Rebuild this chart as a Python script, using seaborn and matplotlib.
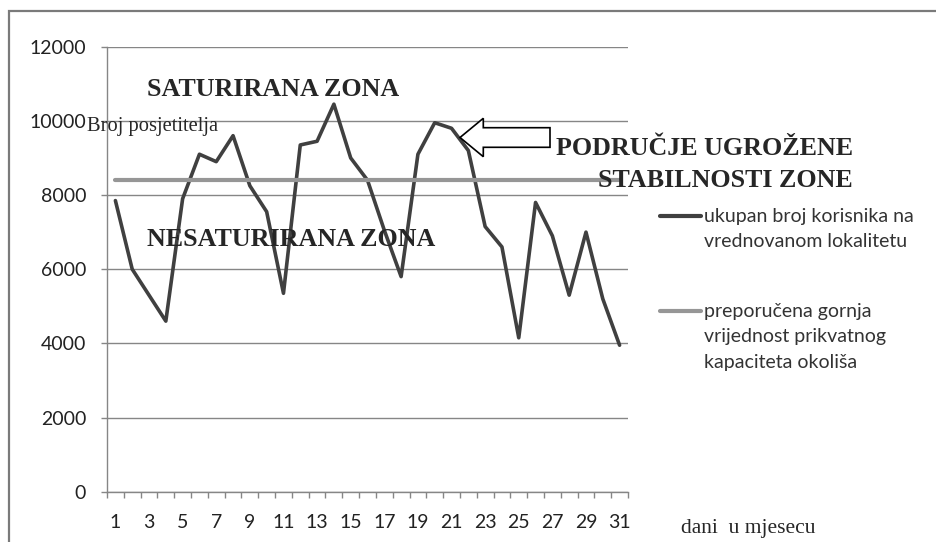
import matplotlib
matplotlib.use("Agg")
import matplotlib.pyplot as plt
from matplotlib.patches import FancyArrow, Rectangle
import seaborn as sns
import pandas as pd

# podaci (ocitano s grafa)
dani = list(range(1, 32))
korisnici = [7850, 6000, 5300, 4600, 7900, 9100, 8900, 9600, 8250, 7550,
             5350, 9350, 9450, 10450, 9000, 8400, 7050, 5800, 9100, 9950,
             9800, 9200, 7150, 6600, 4150, 7800, 6900, 5300, 7000, 5200, 3950]
granica = [8400] * 31
oznake_x = list(range(1, 32, 2))
oznake_y = list(range(0, 12001, 2000))

naziv_1 = "ukupan broj korisnika na\nvrednovanom lokalitetu"
naziv_2 = "preporučena gornja\nvrijednost prikvatnog\nkapaciteta okoliša"

df = pd.DataFrame({"dan": dani, "korisnici": korisnici, "granica": granica})

sns.set_theme(style="white")
plt.rcParams["font.family"] = ["Lato", "DejaVu Sans"]

W, H = 937, 542
fig = plt.figure(figsize=(W / 100, H / 100), dpi=100)
ax = fig.add_axes([107 / W, 1 - 491.7 / H, (628 - 107) / W, (491.7 - 46.7) / H])

sns.lineplot(data=df, x="dan", y="korisnici", ax=ax, color="#404040", linewidth=2.6, label=naziv_1)
sns.lineplot(data=df, x="dan", y="granica", ax=ax, color="#969696", linewidth=3.0, label=naziv_2)

ax.set_xlim(0.5, 31.5)
ax.set_ylim(0, 12000)
ax.set_yticks(oznake_y)
ax.set_yticklabels([str(v) for v in oznake_y])
ax.yaxis.grid(True, color="#868686", linewidth=1)
ax.set_axisbelow(True)

# kvacice na granicama dana, oznake na sredini
ax.set_xticks([d + 0.5 for d in range(0, 32)])
ax.set_xticklabels([])
ax.set_xticks(oznake_x, minor=True)
ax.set_xticklabels([str(d) for d in oznake_x], minor=True)
ax.tick_params(axis="x", which="major", direction="out", length=4, width=1, color="#868686", bottom=True)
ax.tick_params(axis="x", which="minor", length=0, pad=16, labelsize=14, labelcolor="#222222")
ax.tick_params(axis="y", direction="out", length=4, width=1, color="#868686", left=True, pad=11,
               labelsize=14, labelcolor="#222222")
ax.set_xlabel("")
ax.set_ylabel("")
for s in ["top", "right"]:
    ax.spines[s].set_visible(False)
for s in ["left", "bottom"]:
    ax.spines[s].set_color("#868686")
    ax.spines[s].set_linewidth(1)

# legenda
leg = ax.legend(loc="upper left", bbox_to_anchor=(660 / W, 1 - 208 / H), bbox_transform=fig.transFigure,
                frameon=False, fontsize=14, handlelength=2.1, handletextpad=0.15, labelspacing=2.7,
                borderpad=0, borderaxespad=0)
for t in leg.get_texts():
    t.set_linespacing(1.6)
    t.set_color("#333333")
for ln, t in zip(leg.get_lines(), leg.get_texts()):
    n = t.get_text().count("\n")
    ln.set_ydata([y + n * 9.4 for y in ln.get_ydata()])
    ln.set_linewidth(3)

serif = ["Liberation Serif", "DejaVu Serif"]
def px(x, y):
    return x / W, 1 - y / H

fig.text(*px(147, 89), "SATURIRANA ZONA", family=serif, weight="bold", fontsize=18.7, va="center", ha="left")
fig.text(*px(147, 239), "NESATURIRANA ZONA", family=serif, weight="bold", fontsize=18.7, va="center", ha="left")
fig.text(*px(87, 127), "Broj posjetitelja", family=serif, fontsize=14.8, va="center", ha="left")
fig.text(*px(853, 164.5), "PODRUČJE UGROŽENE\nSTABILNOSTI ZONE", family=serif, weight="bold", fontsize=18.7,
         va="center", ha="right", multialignment="right", linespacing=1.5)
fig.text(*px(681, 528), "dani  u mjesecu", family=serif, fontsize=15.5, va="center", ha="left")

# strelica
strelica = FancyArrow(5.50, (H - 137.5) / 100, -0.90, 0, width=0.196, head_width=0.384, head_length=0.233,
                      length_includes_head=True, transform=fig.dpi_scale_trans,
                      facecolor="white", edgecolor="black", linewidth=1.2)
fig.add_artist(strelica)

# okvir
okvir = Rectangle((0.093, -0.2), 9.6, (H - 10.5) / 100 + 0.2, transform=fig.dpi_scale_trans,
                  fill=False, edgecolor="#7a7a7a", linewidth=1.6)
fig.add_artist(okvir)

fig.savefig("out.png", dpi=100)
